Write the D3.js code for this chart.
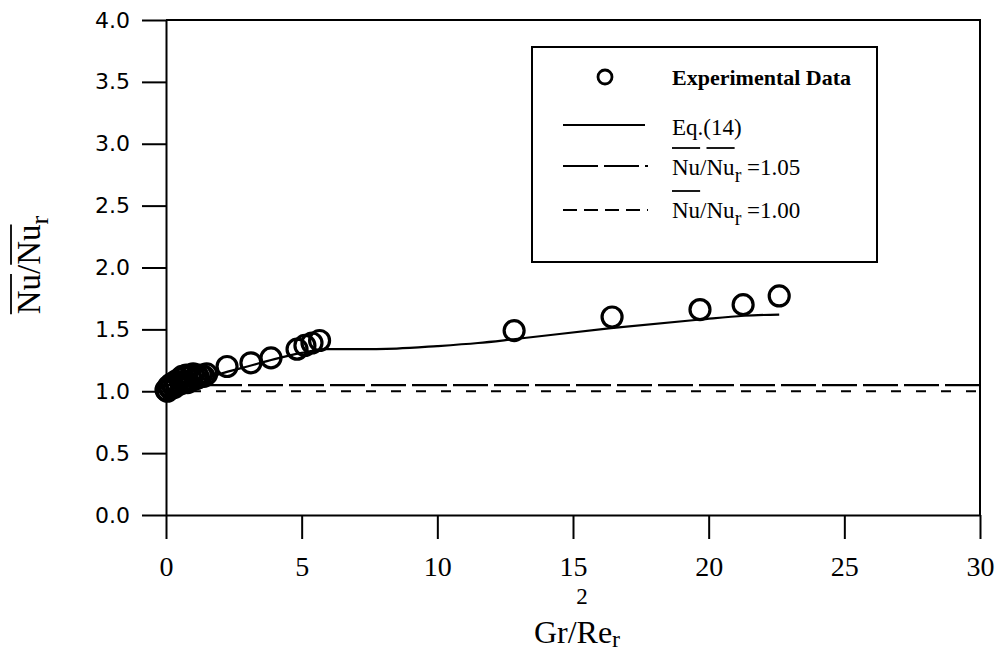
<!DOCTYPE html>
<html>
<head>
<meta charset="utf-8">
<script src="https://cdn.jsdelivr.net/npm/d3@7"></script>
<style>
  body { margin: 0; background: #fff; }
  text { fill: #000; }
</style>
</head>
<body>
<div id="chart"></div>
<script>
//------------------------------------------------------------------------ Data
// experimental points (Gr/Re_r^2 , Nu/Nu_r) - dense cluster near 0 then scattered points
var expX = [0, 0.05, 0.1, 0.15, 0.2, 0.3, 0.35, 0.4, 0.5, 0.55, 0.6, 0.7, 0.75, 0.8, 0.9, 0.95, 1.0,
            1.1, 1.15, 1.2, 1.3, 1.4, 1.5,
            2.25, 3.13, 3.87, 4.83, 5.12, 5.38, 5.66, 12.83, 16.44, 19.68, 21.27, 22.6];
var expY = [1.01, 1.00, 1.04, 1.02, 1.06, 1.03, 1.08, 1.05, 1.10, 1.06, 1.12, 1.08, 1.13, 1.07, 1.12, 1.09, 1.14,
            1.10, 1.13, 1.11, 1.13, 1.12, 1.14,
            1.20, 1.23, 1.27, 1.34, 1.37, 1.39, 1.41, 1.49, 1.60, 1.66, 1.70, 1.77];

// Eq.(14)
var eqX = [0, 1, 2, 3, 4, 5, 5.9, 7, 8.5, 10, 11.5, 12.8, 16.4, 19.7, 21.3, 22.6];
var eqY = [1.0, 1.07, 1.14, 1.2, 1.26, 1.31, 1.34, 1.34, 1.345, 1.365, 1.39, 1.42, 1.51, 1.58, 1.61, 1.62];

// reference levels Nu/Nu_r = 1.05 and 1.00
var refLevels = [1.05, 1.00];

var xTicks = [0, 5, 10, 15, 20, 25, 30];
var yTicks = [0, 0.5, 1.0, 1.5, 2.0, 2.5, 3.0, 3.5, 4.0];

//------------------------------------------------------------------------ Setup
var serif = "'Liberation Serif', 'Times New Roman', serif";
var sans = "'DejaVu Sans', sans-serif";

var margin = {top: 20, right: 19, bottom: 140, left: 166},
    width = 999 - margin.left - margin.right,
    height = 655 - margin.top - margin.bottom;

var svg = d3.select("#chart").append("svg")
    .attr("width", 999)
    .attr("height", 655);

var g = svg.append("g")
    .attr("transform", "translate(" + margin.left + "," + margin.top + ")");

var x = d3.scaleLinear().domain([0, 30]).range([0, width]);
var y = d3.scaleLinear().domain([0, 4]).range([height, 0]);

//------------------------------------------------------------------------ Axes
var xAxis = g.append("g")
    .attr("transform", "translate(0," + height + ")")
    .call(d3.axisBottom(x).tickValues(xTicks).tickSize(24).tickSizeOuter(0).tickPadding(17));
xAxis.selectAll("text").attr("font-family", serif).attr("font-size", 28);

var yAxis = g.append("g")
    .call(d3.axisLeft(y).tickValues(yTicks).tickSize(24).tickSizeOuter(0).tickPadding(12)
      .tickFormat(d3.format(".1f")));
yAxis.selectAll("text").attr("font-family", sans).attr("font-size", 22);

g.selectAll(".domain, .tick line").attr("stroke", "#000").attr("stroke-width", 2);

// frame top + right
g.append("path")
    .attr("d", "M0,0H" + width + "V" + height)
    .attr("fill", "none").attr("stroke", "#000").attr("stroke-width", 2);

//------------------------------------------------------------------------ Reference lines
var refDash = ["35,6", "10,15"];
g.selectAll(".ref").data(refLevels).enter().append("line")
    .attr("class", "ref")
    .attr("x1", x(0)).attr("x2", x(30))
    .attr("y1", function(d){ return y(d); })
    .attr("y2", function(d){ return y(d); })
    .attr("stroke", "#000").attr("stroke-width", 2.2)
    .attr("stroke-dasharray", function(d, i){ return refDash[i]; });

//------------------------------------------------------------------------ Eq.(14)
var line = d3.line()
    .x(function(d){ return x(d[0]); })
    .y(function(d){ return y(d[1]); })
    .curve(d3.curveMonotoneX);

g.append("path")
    .datum(d3.zip(eqX, eqY))
    .attr("d", line)
    .attr("fill", "none").attr("stroke", "#000").attr("stroke-width", 2.2);

//------------------------------------------------------------------------ Points
g.selectAll(".pt").data(d3.zip(expX, expY)).enter().append("circle")
    .attr("class", "pt")
    .attr("cx", function(d){ return x(d[0]); })
    .attr("cy", function(d){ return y(d[1]); })
    .attr("r", 10)
    .attr("fill", "none").attr("stroke", "#000").attr("stroke-width", 3.2);

//------------------------------------------------------------------------ Overbar helper
function overbar(parent, textNode, from, to, yPos){
  var a = textNode.getExtentOfChar(from), b = textNode.getExtentOfChar(to);
  parent.append("line")
    .attr("x1", a.x).attr("x2", b.x + b.width)
    .attr("y1", yPos).attr("y2", yPos)
    .attr("stroke", "#000").attr("stroke-width", 1.8);
}

//------------------------------------------------------------------------ Axis titles
var yt = svg.append("g").attr("transform", "translate(40,265) rotate(-90)");
var ytText = yt.append("text")
    .attr("text-anchor", "middle")
    .attr("font-family", serif).attr("font-size", 33);
ytText.append("tspan").text("Nu/Nu");
ytText.append("tspan").attr("dy", 8).attr("font-size", 26).text("r");
overbar(yt, ytText.node(), 0, 1, -29);
overbar(yt, ytText.node(), 3, 4, -29);

var xt = svg.append("text")
    .attr("x", 577).attr("y", 643)
    .attr("text-anchor", "middle")
    .attr("font-family", serif).attr("font-size", 32);
xt.append("tspan").text("Gr/Re");
xt.append("tspan").attr("dy", 4).attr("font-size", 24).text("r");
svg.append("text")
    .attr("x", 582).attr("y", 604)
    .attr("text-anchor", "middle")
    .attr("font-family", serif).attr("font-size", 23)
    .text("2");

//------------------------------------------------------------------------ Legend
var lg = svg.append("g");
lg.append("rect")
    .attr("x", 532).attr("y", 47).attr("width", 345).attr("height", 215)
    .attr("fill", "#fff").attr("stroke", "#000").attr("stroke-width", 2);

lg.append("circle").attr("cx", 605).attr("cy", 77).attr("r", 7)
    .attr("fill", "none").attr("stroke", "#000").attr("stroke-width", 2.8);
lg.append("text").attr("x", 672).attr("y", 85)
    .attr("font-family", serif).attr("font-size", 22).attr("font-weight", "bold")
    .text("Experimental Data");

lg.append("line").attr("x1", 563).attr("x2", 645).attr("y1", 125).attr("y2", 125)
    .attr("stroke", "#000").attr("stroke-width", 2.2);
lg.append("text").attr("x", 672).attr("y", 135)
    .attr("font-family", serif).attr("font-size", 23)
    .text("Eq.(14)");

var legRef = [
  {y: 166, ty: 175, dash: "35,6", label: "=1.05", bars: [[0, 1], [3, 4]]},
  {y: 210, ty: 218, dash: "14,7", label: "=1.00", bars: [[0, 1]]}
];
legRef.forEach(function(r, i){
  lg.append("line").attr("x1", 563).attr("x2", 648).attr("y1", r.y).attr("y2", r.y)
    .attr("stroke", "#000").attr("stroke-width", 2.2)
    .attr("stroke-dasharray", r.dash);
  var t = lg.append("text").attr("x", 672).attr("y", r.ty)
    .attr("font-family", serif).attr("font-size", 23);
  t.append("tspan").text("Nu/Nu");
  t.append("tspan").attr("dy", 7).attr("font-size", 20).text("r");
  t.append("tspan").attr("dy", -7).text(" " + r.label);
  r.bars.forEach(function(b){ overbar(lg, t.node(), b[0], b[1], r.ty - 27); });
});
</script>
</body>
</html>
